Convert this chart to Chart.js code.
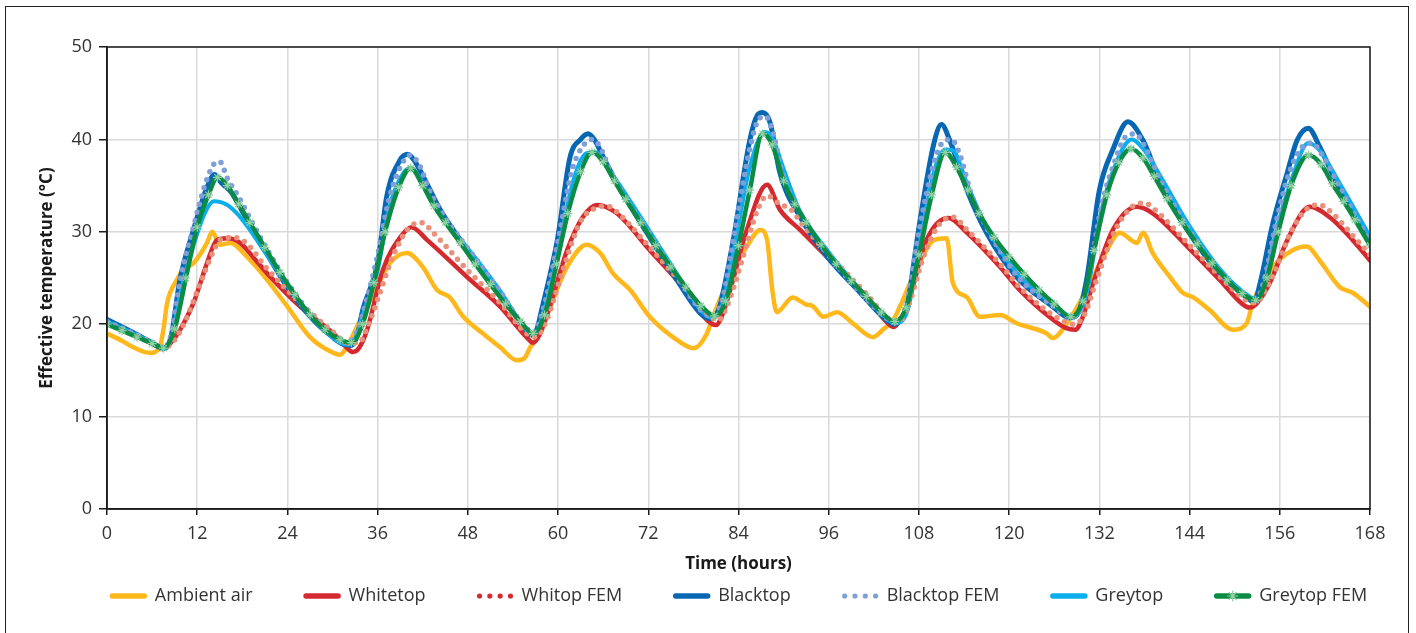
<!DOCTYPE html>
<html>
<head>
<meta charset="utf-8">
<script src="https://cdn.jsdelivr.net/npm/chart.js@4.4.1/dist/chart.umd.min.js"></script>
<style>
  html, body { margin: 0; padding: 0; background: #fff; }
  #wrap { position: relative; width: 1416px; height: 633px; overflow: hidden; }
  #frame { position: absolute; left: 5px; top: 6px; width: 1404px; height: 640px; border: 1.5px solid #222; box-sizing: border-box; pointer-events: none; }
  canvas { position: absolute; left: 0; top: 0; }
</style>
</head>
<body>
<div id="wrap">
  <canvas id="chart" width="1416" height="633"></canvas>
  <div id="frame"></div>
</div>
<script>
// hours / effective temperature (°C)
const ambientHours = [0, 2, 3.5, 5.7, 7, 7.5, 8, 9.3, 10.1, 11.5, 13.3, 14, 15, 16.4, 18.6, 21.3, 24, 27, 30.1, 31, 32.2, 33.7, 35.9, 37.6, 39.9, 42, 43.9, 45.6, 47.4, 50, 52.3, 54.5, 55.5, 56.3, 57.6, 59, 61.2, 63.8, 65.6, 67.3, 69.6, 72.2, 75.8, 78, 79.8, 80.6, 83.3, 85.1, 86.9, 87.8, 88.5, 89.1, 91.2, 93.1, 93.8, 95.3, 97.1, 99.2, 101.9, 103.2, 104.6, 107.2, 110, 111.7, 112.5, 114.4, 116.1, 118.8, 121, 125, 125.8, 127.7, 130.3, 133, 134.7, 137, 137.8, 139.1, 141.4, 143.1, 144.5, 146.7, 149.8, 151.6, 152.4, 155.1, 157.7, 159.6, 161.3, 164, 165.7, 168];
const ambientTemp = [19.0, 18.2, 17.5, 16.9, 17.5, 19.4, 22.3, 24.8, 25.9, 26.6, 28.8, 30.0, 28.6, 28.8, 27.3, 24.8, 21.9, 18.6, 16.9, 16.7, 18.0, 20.5, 24.0, 26.6, 27.7, 26.2, 23.7, 22.9, 20.8, 19.0, 17.5, 16.1, 16.3, 17.5, 19.0, 22.0, 26.2, 28.6, 27.7, 25.5, 23.7, 20.8, 18.3, 17.4, 19.0, 20.8, 25.9, 28.4, 30.2, 29.1, 23.7, 21.3, 22.9, 22.1, 22.0, 20.8, 21.3, 20.1, 18.6, 19.4, 20.5, 25.1, 29.1, 29.3, 24.5, 22.9, 20.8, 21.0, 20.1, 19.0, 18.5, 20.1, 23.7, 28.0, 29.9, 28.8, 29.9, 27.7, 25.1, 23.4, 22.9, 21.5, 19.4, 20.1, 22.3, 26.2, 28.0, 28.4, 26.9, 24.0, 23.4, 21.9];

const whiteHours = [0, 3, 6, 7.5, 8.8, 10, 11.5, 13.3, 14.6, 16, 17.7, 19.5, 21.3, 25.7, 30.1, 31.5, 32.7, 33.5, 34.6, 36.7, 39, 40.5, 42.6, 47.9, 52.3, 55.8, 56.7, 57.5, 58.9, 61.2, 63.3, 65.2, 67.8, 72.2, 76.6, 80, 81, 81.6, 82.9, 85.1, 87.8, 89.5, 92.2, 96.6, 101.1, 103.5, 104.6, 105.3, 106.4, 109, 111.9, 114.4, 118.8, 121.4, 125.8, 127.5, 128.8, 129.8, 131.2, 133.8, 137, 139.1, 143.7, 148, 151, 152, 153, 154.7, 157, 160, 162.6, 165.7, 168];
const whiteTemp = [20.2, 19.1, 17.9, 17.3, 18.3, 19.8, 22.3, 26.6, 29.1, 29.3, 28.8, 27.2, 25.5, 21.9, 19.0, 17.8, 17.0, 17.4, 19.4, 25.9, 29.4, 30.5, 29.1, 25.1, 21.9, 18.6, 18.0, 18.8, 21.9, 28.0, 31.6, 32.9, 32.0, 28.0, 24.0, 20.3, 19.9, 20.5, 23.7, 30.2, 35.1, 32.4, 30.2, 26.6, 22.9, 20.4, 19.7, 20.2, 21.9, 29.1, 31.5, 29.9, 26.2, 23.7, 20.5, 19.6, 19.4, 20.8, 24.5, 30.2, 32.7, 32.0, 28.4, 24.8, 22.2, 21.8, 22.3, 24.5, 29.1, 32.7, 31.6, 29.1, 26.9];

const whiteFemHours = [0, 3, 6, 7.5, 9, 10.5, 12.4, 14.1, 15, 16.8, 18.5, 21.3, 25.7, 30, 32, 33.5, 34.8, 36.3, 38, 40, 41.8, 43.5, 48, 52.3, 55.8, 57, 58.5, 60.5, 62.9, 65, 66.5, 68, 72.2, 76.6, 80, 81.3, 82.5, 84.5, 86.5, 87.8, 89.5, 91, 92.5, 96.6, 101.1, 104, 105.2, 106.5, 108.7, 110.7, 112.5, 114.4, 118.8, 121.4, 125.8, 128.6, 130, 131.5, 134, 136.5, 138, 139.5, 143.7, 148, 151.5, 152.8, 154, 155.5, 157.5, 159.8, 161.3, 163, 165.7, 168];
const whiteFemTemp = [20.2, 19.1, 18.0, 17.4, 18.3, 20.5, 24.4, 27.8, 29.1, 29.4, 28.8, 26.0, 22.3, 19.2, 18.0, 18.0, 20.0, 23.4, 27.3, 30.3, 31.0, 29.8, 25.8, 22.3, 19.0, 18.6, 20.5, 25.5, 31.0, 32.6, 32.8, 32.0, 28.3, 24.3, 21.0, 20.4, 22.0, 27.0, 32.3, 33.9, 33.0, 32.4, 30.8, 27.0, 23.2, 20.5, 20.2, 21.8, 27.5, 30.8, 31.6, 30.2, 26.5, 24.0, 21.0, 20.0, 21.0, 24.5, 30.0, 32.8, 33.1, 32.3, 28.8, 25.2, 22.6, 22.3, 23.5, 26.0, 30.0, 32.6, 32.9, 32.0, 29.6, 27.5];

const blackHours = [0, 3, 6, 7.5, 8.5, 9.7, 11.5, 13.3, 14.3, 15.2, 16.5, 18, 21, 24, 27.4, 30, 31.5, 32.5, 33.3, 34, 36, 37.2, 39, 40, 40.8, 42.5, 44.3, 48, 52.3, 55.5, 56.5, 57.2, 57.8, 59.9, 61.6, 63, 64, 64.8, 66, 67.8, 71.8, 75.8, 78.9, 80.3, 81, 81.5, 83.3, 85.5, 86.5, 87.2, 88.2, 89.5, 92.2, 95.8, 100.2, 103.2, 104.8, 105.7, 106.4, 108.1, 110, 111, 112.1, 114.4, 117, 121, 125.8, 128, 129, 130.3, 132, 133.8, 135.8, 137.8, 140, 143.7, 148, 151.6, 152.6, 153.4, 155.1, 157, 158.3, 159.8, 161.3, 164, 168];
const blackTemp = [20.5, 19.3, 18.0, 17.4, 18.6, 24.8, 30.2, 34.8, 36.2, 35.3, 34.3, 32.2, 28.0, 24.0, 20.5, 18.6, 17.8, 17.7, 18.8, 21.5, 26.6, 33.8, 37.8, 38.4, 37.8, 35.3, 32.4, 28.0, 23.4, 19.6, 18.8, 19.5, 21.5, 29.1, 38.1, 40.0, 40.6, 40.0, 38.1, 35.3, 29.9, 24.8, 21.2, 20.6, 21.0, 21.9, 29.1, 39.9, 42.6, 42.9, 41.8, 36.4, 31.6, 27.3, 23.4, 20.8, 20.0, 20.6, 21.9, 31.0, 39.6, 41.6, 39.9, 34.5, 29.9, 25.1, 21.9, 20.7, 21.0, 24.8, 34.5, 38.9, 41.9, 39.9, 35.6, 30.2, 25.5, 22.9, 22.4, 24.5, 31.0, 36.4, 39.9, 41.2, 39.2, 34.5, 29.1];

const blackFemHours = [0, 3, 6, 7.5, 8.5, 9.8, 11.5, 13, 14.2, 15, 16, 17.5, 19, 21, 24, 27.4, 30, 32, 33.3, 34.5, 36, 37.5, 39, 40.3, 41.5, 43, 45, 48, 52.3, 55.5, 56.8, 58, 60, 61.8, 63.5, 64.5, 65.5, 67, 68.5, 72, 76, 79, 80.5, 81.8, 83.5, 85.5, 86.8, 87.6, 88.5, 89.8, 92.2, 96, 100.2, 103.2, 104.8, 106.3, 108, 110, 111.3, 112.3, 113.5, 115, 117, 121, 125.8, 128.2, 129.5, 130.5, 132.2, 134, 135.5, 136.8, 138, 140, 143.7, 148, 151.6, 152.8, 154, 155.5, 157.3, 159, 160.3, 161.5, 164, 168];
const blackFemTemp = [20.3, 19.2, 18.0, 17.4, 18.8, 25.0, 30.5, 35.0, 37.3, 37.6, 35.8, 33.8, 31.5, 28.5, 24.5, 20.8, 18.8, 18.0, 19.3, 22.5, 27.5, 33.5, 37.0, 38.3, 37.3, 34.3, 31.5, 28.2, 23.5, 19.8, 19.1, 21.5, 29.0, 36.5, 39.5, 40.0, 39.3, 36.5, 34.3, 30.0, 25.0, 21.5, 20.8, 22.5, 30.0, 39.0, 42.3, 42.5, 41.0, 36.5, 32.0, 27.5, 23.5, 21.0, 20.2, 22.0, 30.0, 37.5, 39.8, 40.0, 38.2, 34.0, 30.5, 25.3, 22.0, 20.8, 21.5, 24.5, 32.5, 37.5, 40.3, 40.6, 39.3, 35.8, 30.5, 25.7, 23.0, 22.6, 25.0, 31.0, 36.5, 39.2, 39.6, 38.5, 34.8, 28.8];

const greyHours = [0, 3, 6, 7.5, 8.5, 9.8, 11.5, 13, 14.2, 16, 17.5, 19, 21, 24, 27.4, 30, 31.8, 33, 34, 36, 37.5, 39, 40.3, 41.5, 43, 45, 48, 52.3, 55.5, 56.8, 58, 60, 62, 63.8, 65, 66.5, 68, 72, 76, 79, 80.5, 81.8, 83.5, 85.5, 87.5, 88.5, 90, 92.2, 96, 100.2, 103.2, 104.8, 106.5, 108.3, 110, 111.5, 112.5, 114.5, 117, 121, 125.8, 128.3, 129.5, 130.5, 132.2, 134, 136.3, 138, 140, 143.7, 148, 151.8, 153, 154, 155.5, 157.5, 159.8, 161.3, 164, 168];
const greyTemp = [20.3, 19.2, 18.0, 17.3, 18.2, 23.5, 28.5, 32.0, 33.3, 32.9, 31.8, 30.2, 27.8, 24.2, 20.6, 18.6, 17.8, 18.3, 21.0, 25.8, 32.5, 35.8, 36.9, 36.0, 33.5, 31.0, 28.2, 23.6, 19.6, 18.9, 21.0, 28.0, 35.5, 38.5, 38.6, 37.0, 35.3, 30.3, 25.2, 21.5, 20.7, 22.0, 28.5, 37.0, 40.8, 40.2, 36.8, 32.2, 27.8, 23.7, 21.0, 20.1, 21.5, 29.5, 36.5, 38.9, 38.8, 35.0, 30.5, 25.6, 22.2, 20.8, 21.5, 24.0, 32.0, 37.0, 40.0, 38.8, 36.2, 31.0, 26.0, 23.1, 22.7, 24.5, 30.0, 35.5, 39.6, 38.8, 35.2, 29.5];

const greyFemHours = [0, 2, 4, 6, 7.5, 9, 10.5, 12, 13.5, 14.7, 16, 17.5, 19, 21, 23, 25, 27, 29, 31, 32.5, 34, 35.5, 37, 38.8, 40.4, 42, 43.5, 45, 47, 49, 51, 53, 55, 56.7, 58.2, 59.8, 61.3, 63, 64.5, 66, 67.5, 69, 71, 73, 75, 77, 79, 80.8, 82.3, 84, 85.5, 87.2, 88.5, 90, 91.5, 93, 95, 97, 99, 101, 103, 104.8, 106.3, 108, 109.7, 111.5, 113, 114.5, 116, 118, 120, 122, 124, 126, 128.2, 129.8, 131.3, 133, 134.6, 136.2, 137.8, 139.3, 141, 143, 145, 147, 149, 151, 152.8, 154.3, 155.8, 157.5, 159.8, 161.5, 163, 164.5, 166, 168];
const greyFemTemp = [20.0, 19.3, 18.6, 17.9, 17.4, 19.5, 25.0, 30.5, 34.0, 35.9, 35.0, 33.0, 31.0, 28.3, 25.6, 23.2, 21.0, 19.4, 18.3, 18.0, 20.0, 24.5, 30.0, 34.8, 36.9, 35.0, 32.8, 31.0, 28.8, 26.5, 24.3, 22.2, 20.3, 19.0, 21.0, 26.5, 32.0, 36.5, 38.6, 37.6, 35.5, 33.5, 31.0, 28.5, 26.2, 24.0, 22.0, 20.9, 22.5, 28.5, 34.5, 40.6, 39.4, 35.5, 33.0, 31.0, 28.6, 26.5, 24.7, 23.0, 21.3, 20.3, 21.8, 27.5, 34.0, 38.6, 37.0, 34.5, 32.0, 29.4, 27.3, 25.4, 23.7, 22.2, 20.8, 22.5, 28.0, 34.0, 37.5, 39.0, 38.0, 36.0, 33.6, 31.0, 28.7, 26.6, 24.8, 23.3, 22.6, 25.0, 30.0, 35.0, 38.3, 37.3, 35.2, 33.3, 31.3, 28.5];

const xTicks = [0, 12, 24, 36, 48, 60, 72, 84, 96, 108, 120, 132, 144, 156, 168];
const yTicks = [0, 10, 20, 30, 40, 50];

const toPoints = (hours, temps) => hours.map((h, i) => ({ x: h, y: temps[i] }));

const FONT = '"Open Sans", "Noto Sans", sans-serif';

const solid = (label, hours, temps, color, width, order) => ({
  label, data: toPoints(hours, temps), borderColor: color, backgroundColor: color,
  borderWidth: width, pointRadius: 0, cubicInterpolationMode: 'monotone',
  borderCapStyle: 'round', borderJoinStyle: 'round', order, legendKind: 'line', legendColor: color
});

const dotted = (label, hours, temps, color, legendColor, order) => ({
  label, data: toPoints(hours, temps), borderColor: color, backgroundColor: color,
  borderWidth: 5.5, borderDash: [0, 8.5], borderCapStyle: 'round', pointRadius: 0,
  cubicInterpolationMode: 'monotone', order, legendKind: 'dots', legendColor
});

const datasets = [
  solid('Ambient air', ambientHours, ambientTemp, '#FFB81C', 4.5, 7),
  solid('Whitetop', whiteHours, whiteTemp, '#D42A2F', 4.5, 6),
  dotted('Whitop FEM', whiteFemHours, whiteFemTemp, '#E8907A', '#D42A2F', 3),
  solid('Blacktop', blackHours, blackTemp, '#0767B3', 5, 5),
  dotted('Blacktop FEM', blackFemHours, blackFemTemp, '#7F9FD6', '#7F9FD6', 2),
  solid('Greytop', greyHours, greyTemp, '#0AAEEB', 4, 4),
  {
    label: 'Greytop FEM', data: toPoints(greyFemHours, greyFemTemp),
    borderColor: '#0B8C44', backgroundColor: '#0B8C44', borderWidth: 4.5,
    cubicInterpolationMode: 'monotone', borderCapStyle: 'round',
    pointStyle: 'star', pointRadius: 4.5, pointBorderColor: '#8FD0A2', pointBackgroundColor: '#8FD0A2',
    pointBorderWidth: 1.2, order: 1, legendKind: 'star', legendColor: '#0B8C44', starColor: '#8FD0A2'
  }
];

// outline of the plotting area (top/right edges)
const plotFrame = {
  id: 'plotFrame',
  afterDatasetsDraw(chart) {
    const { ctx, chartArea: a } = chart;
    ctx.save();
    ctx.strokeStyle = '#1a1a1a';
    ctx.lineWidth = 1.5;
    ctx.strokeRect(a.left, a.top, a.right - a.left, a.bottom - a.top);
    ctx.restore();
  }
};

// legend row under the x axis title
const bottomLegend = {
  id: 'bottomLegend',
  afterDraw(chart) {
    const ctx = chart.ctx;
    const a = chart.chartArea;
    const sampleW = 37, gapText = 8, gapItem = 51, y = 596;
    ctx.save();
    ctx.font = '18px ' + FONT;
    const items = chart.data.datasets.map(ds => ({ ds, w: ctx.measureText(ds.label).width }));
    const total = items.reduce((s, it) => s + sampleW + gapText + it.w, 0) + gapItem * (items.length - 1);
    let x = (a.left + a.right) / 2 - total / 2;
    items.forEach(({ ds, w }) => {
      ctx.lineCap = 'round';
      if (ds.legendKind === 'dots') {
        ctx.fillStyle = ds.legendColor;
        for (let k = 0; k < 4; k++) {
          ctx.beginPath();
          ctx.arc(x + 3 + k * 10.3, y, 2.6, 0, Math.PI * 2);
          ctx.fill();
        }
      } else {
        ctx.strokeStyle = ds.legendColor;
        ctx.lineWidth = 5.5;
        ctx.beginPath();
        ctx.moveTo(x + 2.5, y);
        ctx.lineTo(x + sampleW - 2.5, y);
        ctx.stroke();
        if (ds.legendKind === 'star') {
          ctx.strokeStyle = ds.starColor;
          ctx.lineWidth = 1.2;
          const cx = x + sampleW / 2, r = 5;
          ctx.beginPath();
          for (let k = 0; k < 4; k++) {
            const ang = k * Math.PI / 4;
            ctx.moveTo(cx + Math.cos(ang) * r, y + Math.sin(ang) * r);
            ctx.lineTo(cx - Math.cos(ang) * r, y - Math.sin(ang) * r);
          }
          ctx.stroke();
        }
      }
      x += sampleW + gapText;
      ctx.fillStyle = '#333';
      ctx.textBaseline = 'middle';
      ctx.fillText(ds.label, x, y);
      x += w + gapItem;
    });
    ctx.restore();
  }
};

new Chart(document.getElementById('chart'), {
  type: 'line',
  data: { datasets },
  plugins: [plotFrame, bottomLegend],
  options: {
    responsive: false,
    animation: false,
    devicePixelRatio: 1,
    layout: { padding: { left: 20, right: 46, top: 47, bottom: 59 } },
    plugins: { legend: { display: false }, tooltip: { enabled: false } },
    scales: {
      x: {
        type: 'linear', min: 0, max: 168,
        afterBuildTicks: (scale) => { scale.ticks = xTicks.map(v => ({ value: v })); },
        afterFit: (scale) => { scale.height = 65; },
        ticks: { color: '#333', font: { family: FONT, size: 18 }, padding: 8, maxRotation: 0 },
        grid: { color: '#D9D9D9', lineWidth: 1.5, tickLength: 6, tickColor: '#1a1a1a', tickWidth: 1.5 },
        border: { color: '#1a1a1a', width: 1.5 },
        title: { display: true, text: 'Time (hours)', color: '#1a1a1a', font: { family: FONT, size: 17, weight: 'bold' }, padding: { top: 0, bottom: 0 } }
      },
      y: {
        min: 0, max: 50,
        afterBuildTicks: (scale) => { scale.ticks = yTicks.map(v => ({ value: v })); },
        afterFit: (scale) => { scale.width = 87; },
        ticks: { color: '#333', font: { family: FONT, size: 18 }, padding: 7 },
        grid: { color: '#D9D9D9', lineWidth: 1.5, tickLength: 8, tickColor: '#1a1a1a', tickWidth: 1.5 },
        border: { color: '#1a1a1a', width: 1.5 },
        title: { display: true, text: 'Effective temperature (°C)', color: '#1a1a1a', font: { family: FONT, size: 17, weight: 'bold' }, padding: { top: 17, bottom: 0 } }
      }
    }
  }
});
</script>
</body>
</html>
